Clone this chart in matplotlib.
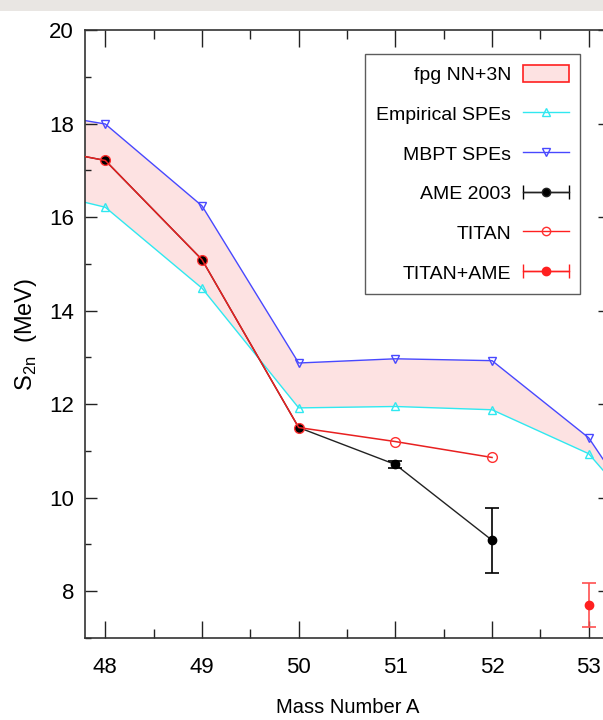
import numpy as np
import matplotlib
matplotlib.use("Agg")
import matplotlib.pyplot as plt
from matplotlib.patches import Patch, Rectangle
from matplotlib.legend_handler import HandlerErrorbar

plt.rcParams["font.family"] = ["Liberation Sans", "DejaVu Sans"]

# mass numbers used by the calculations (band runs past both axis edges)
mass_calc = [47, 48, 49, 50, 51, 52, 53, 54]
s2n_empirical = [16.71, 16.21, 14.48, 11.92, 11.95, 11.88, 10.94, 8.55]
s2n_mbpt = [18.34, 17.99, 16.24, 12.88, 12.97, 12.93, 11.28, 8.20]

# AME 2003 evaluation
mass_ame = [47, 48, 49, 50, 51, 52]
s2n_ame = [17.61, 17.21, 15.09, 11.50, 10.71, 9.09]
err_ame = [0.0, 0.0, 0.0, 0.0, 0.08, 0.69]

# TITAN measurements (joined to the AME values below A=51)
mass_titan = [47, 48, 49, 50, 51, 52]
s2n_titan = [17.61, 17.21, 15.09, 11.50, 11.20, 10.86]

# TITAN+AME
mass_titan_ame = [53]
s2n_titan_ame = [7.71]
err_titan_ame = [0.47]

x_ticks = [48, 49, 50, 51, 52, 53]
y_ticks = [8, 10, 12, 14, 16, 18, 20]

fig = plt.figure(figsize=(6.03, 7.2), dpi=100)
fig.patches.append(Rectangle((0, 1 - 10.5 / 720), 1, 10.5 / 720, transform=fig.transFigure,
                             facecolor="#e9e6e3", edgecolor="none", zorder=0))
ax = fig.add_axes([85 / 603, 1 - 638 / 720, 525 / 603, 608 / 720])

ax.fill_between(mass_calc, s2n_empirical, s2n_mbpt, facecolor="#fde2e2", edgecolor="none", zorder=1)
ax.plot(mass_calc, s2n_empirical, color="#30e8f0", lw=1.0, marker="^", ms=6, mfc="none", mec="#30e8f0", zorder=2)
ax.plot(mass_calc, s2n_mbpt, color="#4848ff", lw=1.0, marker="v", ms=6, mfc="none", mec="#4848ff", zorder=2)

# AME line, then error bars only where an uncertainty is shown
ax.plot(mass_ame, s2n_ame, color="#222222", lw=1.0, marker="o", ms=6, mfc="black", mec="black", zorder=3)
m_ame = np.array(mass_ame)
v_ame = np.array(s2n_ame)
e_ame = np.array(err_ame)
has_err = e_ame > 0
ax.errorbar(m_ame[has_err], v_ame[has_err], yerr=e_ame[has_err], fmt="none", ecolor="black",
            elinewidth=1.2, capsize=5, capthick=1.2, zorder=3)

ax.plot(mass_titan, s2n_titan, color="#e82020", lw=1.1, marker="o", ms=7, mfc="none", mec="#ff3030",
        mew=1.0, zorder=4)
ax.errorbar(mass_titan_ame, s2n_titan_ame, yerr=err_titan_ame, fmt="o", ms=6, color="#ff2020",
            ecolor="#ff5050", elinewidth=1.2, capsize=5, capthick=1.2, zorder=4)

ax.set_xlim(47.79, 53.22)
ax.set_ylim(7, 20)
ax.set_xticks(x_ticks)
ax.set_xticks(np.arange(48.5, 53.5, 1.0), minor=True)
ax.set_yticks(y_ticks)
ax.set_yticks(np.arange(7, 20, 2), minor=True)
ax.tick_params(which="both", direction="in", top=True, right=True, color="#222222", width=1.0)
ax.tick_params(axis="x", which="major", length=12, labelsize=16, pad=14)
ax.tick_params(axis="x", which="minor", length=6.5)
ax.tick_params(axis="y", which="major", length=8.6, labelsize=16, pad=8)
ax.tick_params(axis="y", which="minor", length=4.5)
for sp in ax.spines.values():
    sp.set_color("#333333")
    sp.set_linewidth(1.2)

ax.set_xlabel("Mass Number A", fontsize=14.5, labelpad=14)
ax.set_ylabel("S$_\\mathregular{2n}$  (MeV)", fontsize=17, labelpad=7)

# legend proxies
h_band = Patch(facecolor="#fde2e2", edgecolor="#ff2020", linewidth=1.2)
h_emp, = ax.plot([], [], color="#30e8f0", lw=1.0, marker="^", ms=6, mfc="none", mec="#30e8f0")
h_mbpt, = ax.plot([], [], color="#4848ff", lw=1.0, marker="v", ms=6, mfc="none", mec="#4848ff")
h_ame = ax.errorbar([np.nan], [np.nan], xerr=[1], color="#222222", lw=1.0, marker="o", ms=6,
                    mfc="black", ecolor="black", capsize=5)
h_titan, = ax.plot([], [], color="#ff2020", lw=1.0, marker="o", ms=6, mfc="none", mec="#ff3030")
h_tame = ax.errorbar([np.nan], [np.nan], xerr=[1], color="#ff2020", lw=1.0, marker="o", ms=6,
                     mfc="#ff2020", ecolor="#ff2020", capsize=5)

leg = ax.legend([h_band, h_emp, h_mbpt, h_ame, h_titan, h_tame],
                ["fpg NN+3N", "Empirical SPEs", "MBPT SPEs", "AME 2003", "TITAN", "TITAN+AME"],
                loc="upper right", bbox_to_anchor=(580 / 603, 1 - 54 / 720), bbox_transform=fig.transFigure,
                markerfirst=False, fontsize=14, frameon=True, fancybox=False, borderaxespad=0,
                handlelength=2.4, handleheight=1.0, labelspacing=1.05, borderpad=0.55, handletextpad=0.6,
                handler_map={h_ame: HandlerErrorbar(xerr_size=1.2), h_tame: HandlerErrorbar(xerr_size=1.2)})
leg.get_frame().set_edgecolor("#333333")
leg.get_frame().set_linewidth(1.0)

fig.savefig("out.png", dpi=100)
